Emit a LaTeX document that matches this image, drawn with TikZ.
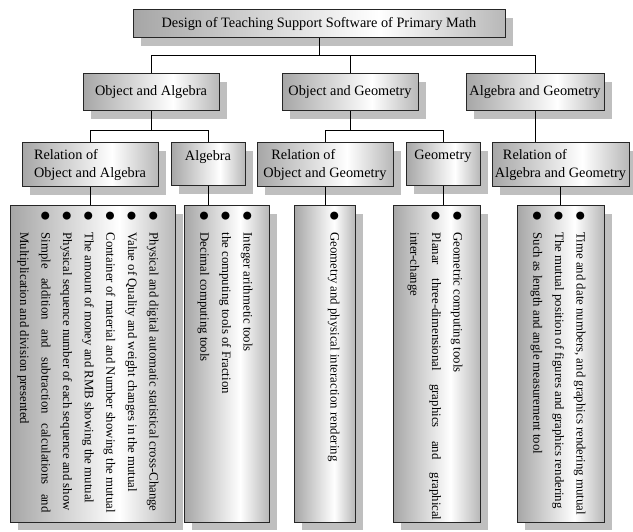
\documentclass[tikz,border=0pt]{standalone}
\usepackage{fontspec}
\setmainfont{Liberation Serif}
\usetikzlibrary{shadows}
\pgfdeclarehorizontalshading{metal}{100bp}{color(0bp)=(black!35); color(25bp)=(black!35); color(58bp)=(white); color(75bp)=(black!28); color(100bp)=(black!28)}
\newcommand{\bul}{\makebox[21pt][l]{\hspace{-1pt}\raisebox{-1.6pt}{\scalebox{1.45}{●}}}}
\tikzset{
  box/.style={draw=black!85, shade, shading=metal, drop shadow={shadow xshift=8pt, shadow yshift=-8pt, fill=black!25, opacity=1}, inner sep=0pt, font=\fontsize{14.3}{18.5}\selectfont},
  listtext/.style={rotate=-90, anchor=north west, inner sep=0pt, align=left, font=\fontsize{12.8}{21.6}\selectfont}
}
\begin{document}
\begin{tikzpicture}[x=1pt, y=-1pt, line width=1pt]
    \useasboundingbox (0, 0) rectangle (633, 532);
    \node[box, minimum width=372pt, minimum height=28pt] (top) at (319, 24) {Design of Teaching Support Software of Primary Math};
    \node[box, minimum width=136pt, minimum height=37pt] (oa) at (151, 92.5) {Object and Algebra};
    \node[box, minimum width=136pt, minimum height=37pt] (og) at (350, 92.5) {Object and Geometry};
    \node[box, minimum width=138pt, minimum height=37pt] (ag) at (535, 92.5) {Algebra and Geometry};
    \node[box, align=left, minimum width=136pt, minimum height=44pt] (reloa) at (90, 165) {Relation of\\Object and Algebra};
    \node[box, align=center, minimum width=74pt, minimum height=43pt] (alg) at (208, 164.5) {Algebra\\\mbox{}};
    \node[box, align=left, minimum width=136pt, minimum height=44pt] (relog) at (325, 165) {\hspace*{8pt}Relation of\\Object and Geometry};
    \node[box, align=center, minimum width=74pt, minimum height=43pt] (geo) at (443, 164.5) {Geometry\\\mbox{}};
    \node[box, align=left, minimum width=137pt, minimum height=44pt] (relag) at (560.5, 165) {\hspace*{8pt}Relation of\\Algebra and Geometry};
    \node[box, minimum width=165pt, minimum height=316pt] (list1) at (92.5, 364) {};
    \node[box, minimum width=85pt, minimum height=316pt] (list2) at (226.5, 364) {};
    \node[box, minimum width=61pt, minimum height=316pt] (list3) at (324.5, 364) {};
    \node[box, minimum width=87pt, minimum height=316pt] (list4) at (436.5, 364) {};
    \node[box, minimum width=87pt, minimum height=316pt] (list5) at (560.5, 364) {};
    \node[listtext] (text1) at (159, 211) {\bul Physical and digital automatic statistical cross-Change\\
        \bul Value of Quality and weight changes in the mutual\\
        \bul Container of material and Number showing the mutual\\
        \bul The amount of money and RMB showing the mutual\\
        \bul Physical sequence number of each sequence and show\\
        \bul\makebox[280pt][s]{Simple addition and subtraction calculations and}\\
        \hspace*{21pt}Multiplication and division presented};
    \node[listtext] (text2) at (253, 211) {\bul Integer arithmetic tools\\
        \bul the computing tools of Fraction\\
        \bul Decimal computing tools};
    \node[listtext] (text3) at (340, 211) {\bul Geometry and physical interaction rendering};
    \node[listtext] (text4) at (463, 211) {\bul Geometric computing tools\\
        \bul\makebox[288pt][s]{Planar three-dimensional graphics and graphical}\\
        \hspace*{21pt}inter-change};
    \node[listtext] (text5) at (586, 211) {\bul Time and date numbers, and graphics rendering mutual\\
        \bul The mutual position of figures and graphics rendering\\
        \bul Such as length and angle measurement tool};
    \draw[] (top.south) -- ++(0, 17) -| (oa.north);
    \draw[] (top.south) -- ++(0, 17) -| (og.north);
    \draw[] (top.south) -- ++(0, 17) -| (ag.north);
    \draw[] (oa.south) -- ++(0, 19) -| (reloa.north);
    \draw[] (oa.south) -- ++(0, 19) -| (alg.north);
    \draw[] (og.south) -- ++(0, 19) -| (relog.north);
    \draw[] (og.south) -- ++(0, 19) -| (geo.north);
    \draw[] (ag.south) -- (ag.south |- relag.north);
    \draw[] (reloa.south) -- (reloa.south |- list1.north);
    \draw[] (alg.south) -- (alg.south |- list2.north);
    \draw[] (relog.south) -- (relog.south |- list3.north);
    \draw[] (geo.south) -- (geo.south |- list4.north);
    \draw[] (relag.south) -- (relag.south |- list5.north);
\end{tikzpicture}
\end{document}
